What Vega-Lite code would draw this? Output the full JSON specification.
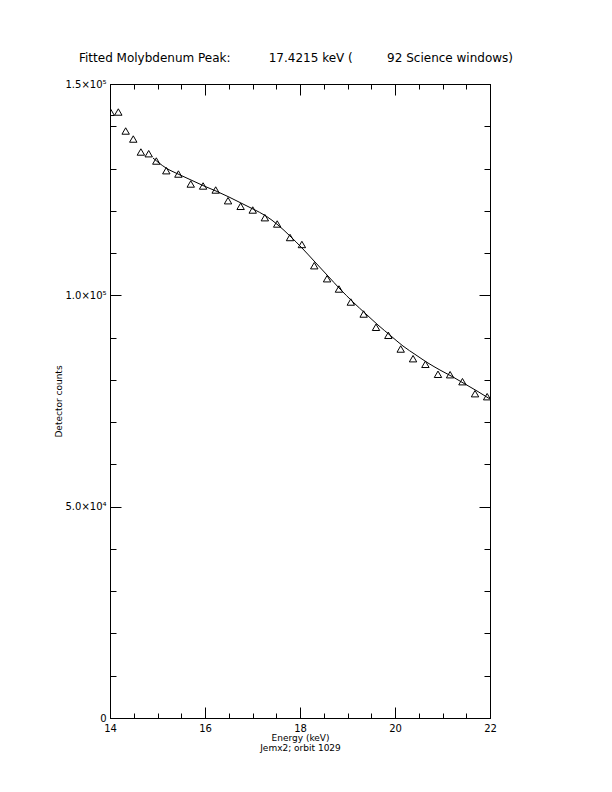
{
  "$schema": "https://vega.github.io/schema/vega-lite/v6.json",
  "autosize": {"type": "none"},
  "width": 380,
  "height": 634,
  "padding": {"left": 110, "top": 84, "right": 122, "bottom": 74},
  "background": "white",
  "config": {
    "view": {"stroke": "black", "strokeWidth": 1},
    "font": "DejaVu Sans",
    "axis": {"domainColor": "black", "tickColor": "black", "labelColor": "black", "titleColor": "black", "grid": false, "ticks": true, "labelFont": "DejaVu Sans", "titleFont": "DejaVu Sans", "labelFontSize": 10, "titleFontSize": 9, "titleFontWeight": "normal", "labelFlush": false, "labelOverlap": false}
  },
  "title": {"text": "Fitted Molybdenum Peak:\u00a0\u00a0\u00a0\u00a0\u00a0\u00a0\u00a0\u00a0\u00a0\u00a017.4215 keV (\u00a0\u00a0\u00a0\u00a0\u00a0\u00a0\u00a0\u00a0\u00a092 Science windows)", "fontSize": 12, "fontWeight": "normal", "font": "DejaVu Sans", "color": "black", "anchor": "middle", "baseline": "alphabetic", "offset": 5, "dx": -4},
  "datasets": {
    "pts": [
      {"energy": 14.015, "counts": 143300},
      {"energy": 14.175, "counts": 143370},
      {"energy": 14.33, "counts": 138880},
      {"energy": 14.49, "counts": 136980},
      {"energy": 14.65, "counts": 133910},
      {"energy": 14.815, "counts": 133510},
      {"energy": 14.975, "counts": 131780},
      {"energy": 15.185, "counts": 129490},
      {"energy": 15.44, "counts": 128700},
      {"energy": 15.70, "counts": 126340},
      {"energy": 15.96, "counts": 125870},
      {"energy": 16.225, "counts": 124920},
      {"energy": 16.485, "counts": 122390},
      {"energy": 16.75, "counts": 121060},
      {"energy": 17.005, "counts": 120190},
      {"energy": 17.26, "counts": 118370},
      {"energy": 17.52, "counts": 116880},
      {"energy": 17.79, "counts": 113680},
      {"energy": 18.04, "counts": 112030},
      {"energy": 18.30, "counts": 107010},
      {"energy": 18.57, "counts": 103930},
      {"energy": 18.82, "counts": 101500},
      {"energy": 19.07, "counts": 98420},
      {"energy": 19.34, "counts": 95580},
      {"energy": 19.60, "counts": 92440},
      {"energy": 19.86, "counts": 90540},
      {"energy": 20.12, "counts": 87300},
      {"energy": 20.38, "counts": 85010},
      {"energy": 20.64, "counts": 83680},
      {"energy": 20.905, "counts": 81320},
      {"energy": 21.16, "counts": 81220},
      {"energy": 21.42, "counts": 79570},
      {"energy": 21.685, "counts": 76730},
      {"energy": 21.94, "counts": 76020}
    ],
    "fit": [
      {"energy": 14.905, "counts": 132490},
      {"energy": 15.179, "counts": 130130},
      {"energy": 15.432, "counts": 128700},
      {"energy": 15.705, "counts": 127290},
      {"energy": 15.979, "counts": 125870},
      {"energy": 16.232, "counts": 124680},
      {"energy": 16.505, "counts": 123260},
      {"energy": 16.758, "counts": 121840},
      {"energy": 17.011, "counts": 120420},
      {"energy": 17.284, "counts": 118770},
      {"energy": 17.537, "counts": 116640},
      {"energy": 17.789, "counts": 114040},
      {"energy": 18.042, "counts": 111200},
      {"energy": 18.316, "counts": 107880},
      {"energy": 18.589, "counts": 104570},
      {"energy": 18.842, "counts": 101500},
      {"energy": 19.116, "counts": 98420},
      {"energy": 19.389, "counts": 95580},
      {"energy": 19.642, "counts": 92980},
      {"energy": 19.916, "counts": 90380},
      {"energy": 20.168, "counts": 88010},
      {"energy": 20.442, "counts": 85880},
      {"energy": 20.695, "counts": 83990},
      {"energy": 20.947, "counts": 82330},
      {"energy": 21.221, "counts": 80680},
      {"energy": 21.474, "counts": 79020},
      {"energy": 21.726, "counts": 77370},
      {"energy": 22.0, "counts": 75470}
    ]
  },
  "resolve": {"axis": {"x": "independent", "y": "independent"}},
  "layer": [
    {
      "data": {"name": "pts"},
      "transform": [{"filter": "datum.energy < 16"}],
      "mark": {"type": "point", "shape": "triangle-up", "filled": false, "stroke": "black", "strokeWidth": 1, "size": 55, "opacity": 1, "clip": true},
      "encoding": {
        "x": {"field": "energy", "type": "quantitative", "scale": {"domain": [14, 22], "nice": false, "zero": false},
          "axis": {"orient": "bottom", "title": ["Energy (keV)", "Jemx2; orbit 1029"], "titleBaseline": "top", "titleY": 15, "titleLineHeight": 10, "values": [14,16,18,20,22],
            "format": "d", "tickSize": -11, "labelPadding": 16}},
        "y": {"field": "counts", "type": "quantitative", "scale": {"domain": [0, 150000], "nice": false},
          "axis": {"orient": "left", "title": "Detector counts", "titleX": -52, "titleY": 317, "titleAngle": -90, "titleAlign": "center", "titleBaseline": "middle",
            "values": [0,50000,100000,150000], "tickSize": -11,
            "labelExpr": "datum.value === 150000 ? '1.5×10⁵' : datum.value === 100000 ? '1.0×10⁵' : datum.value === 50000 ? '5.0×10⁴' : '0'", "labelPadding": 15, "labelBaseline": "middle"}}
      }
    },
    {
      "data": {"name": "pts"},
      "transform": [{"filter": "datum.energy >= 16 && datum.energy < 19"}],
      "mark": {"type": "point", "shape": "triangle-up", "filled": false, "stroke": "black", "strokeWidth": 1, "size": 55, "opacity": 1, "clip": true},
      "encoding": {
        "x": {"field": "energy", "type": "quantitative",
          "axis": {"orient": "bottom", "title": null, "labels": false, "domain": false, "tickSize": -5, "values": [14.5,15,15.5,16.5,17,17.5,18.5,19,19.5,20.5,21,21.5]}},
        "y": {"field": "counts", "type": "quantitative",
          "axis": {"orient": "left", "title": null, "labels": false, "domain": false, "tickSize": -6, "values": [10000,20000,30000,40000,60000,70000,80000,90000,110000,120000,130000,140000]}}
      }
    },
    {
      "data": {"name": "pts"},
      "transform": [{"filter": "datum.energy >= 19"}],
      "mark": {"type": "point", "shape": "triangle-up", "filled": false, "stroke": "black", "strokeWidth": 1, "size": 55, "opacity": 1, "clip": true},
      "encoding": {
        "x": {"field": "energy", "type": "quantitative",
          "axis": {"orient": "top", "title": null, "labels": false, "domain": false, "tickSize": -5, "values": [14.5,15,15.5,16.5,17,17.5,18.5,19,19.5,20.5,21,21.5]}},
        "y": {"field": "counts", "type": "quantitative",
          "axis": {"orient": "right", "title": null, "labels": false, "domain": false, "tickSize": -6, "values": [10000,20000,30000,40000,60000,70000,80000,90000,110000,120000,130000,140000]}}
      }
    },
    {
      "data": {"name": "fit"},
      "mark": {"type": "line", "color": "black", "strokeWidth": 1, "interpolate": "monotone"},
      "encoding": {
        "x": {"field": "energy", "type": "quantitative",
          "axis": {"orient": "top", "title": null, "labels": false, "tickSize": -11, "values": [14,16,18,20,22]}},
        "y": {"field": "counts", "type": "quantitative",
          "axis": {"orient": "right", "title": null, "labels": false, "tickSize": -11, "values": [0,50000,100000,150000]}}
      }
    }
  ]
}
